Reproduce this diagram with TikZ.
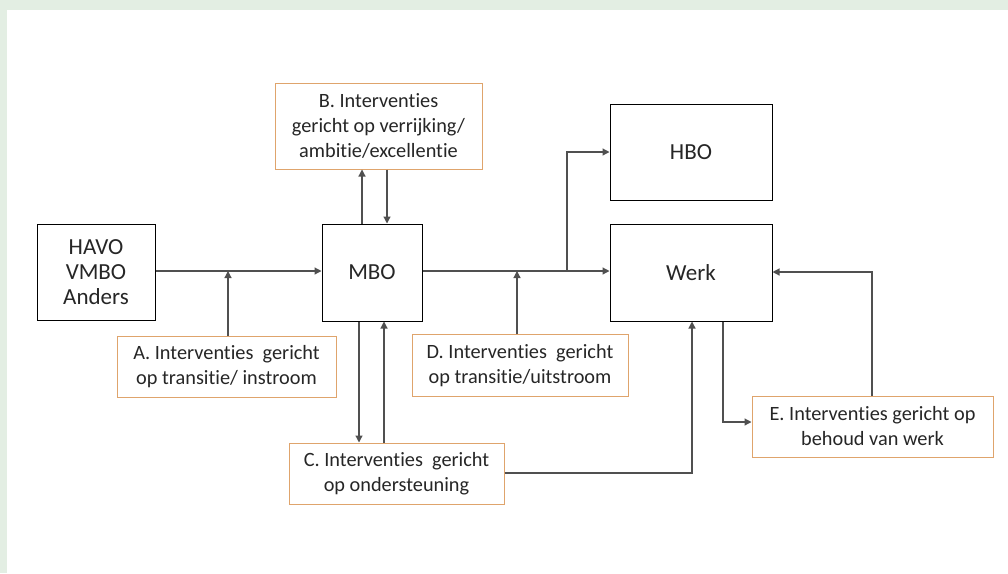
\documentclass[tikz,border=0pt]{standalone}
\usepackage{fontspec}
\setmainfont{Carlito}[RawFeature={-liga}]
\usetikzlibrary{arrows.meta}
\definecolor{bggreen}{HTML}{E3EEE3}
\definecolor{boxorange}{HTML}{DFA46C}
\definecolor{linegray}{HTML}{505050}
\definecolor{textdark}{HTML}{262626}
\tikzset{
  mainbox/.style={draw=black, line width=1pt, fill=white, inner sep=0pt, align=center,
    text=textdark, font=\fontsize{23}{25}\selectfont},
  intbox/.style={draw=boxorange, line width=1pt, fill=white, inner sep=0pt, align=center,
    text=textdark, font=\fontsize{20.3}{25}\selectfont},
  conn/.style={draw=linegray, line width=1.2pt, -{Triangle[length=7pt,width=7pt]}}
}
\begin{document}
\begin{tikzpicture}[x=1pt,y=-1pt]
\fill[bggreen] (0,0) rectangle (1008,573);
\fill[white] (7,10) rectangle (1008,573);
\useasboundingbox (0,0) rectangle (1008,573);

% main boxes
\node[mainbox, minimum width=118pt, minimum height=96pt] (havo) at (96,272) {HAVO\\VMBO\\Anders};
\node[mainbox, minimum width=100pt, minimum height=97pt] (mbo) at (372,272.5) {MBO};
\node[mainbox, minimum width=162pt, minimum height=96pt] (hbo) at (691,152) {HBO};
\node[mainbox, minimum width=162pt, minimum height=97pt] (werk) at (691,272.5) {Werk};

% intervention boxes
\node[intbox, minimum width=207pt, minimum height=86pt] (B) at (378.5,126) {B. Interventies\\gericht op verrijking/\\ambitie/excellentie};
\node[intbox, minimum width=219pt, minimum height=61pt] (A) at (226.5,366.5) {A. Interventies\ \ gericht\\op transitie/ instroom};
\node[intbox, minimum width=216pt, minimum height=62pt] (D) at (520,365.5) {D. Interventies\ \ gericht\\op transitie/uitstroom};
\node[intbox, minimum width=215pt, minimum height=61pt] (C) at (396.5,473.5) {C. Interventies\ \ gericht\\op ondersteuning};
\node[intbox, minimum width=241pt, minimum height=61pt] (E) at (872.5,426.5) {E. Interventies gericht op\\behoud van werk};

% junction coordinates
\coordinate (ja) at (228,271);
\coordinate (jd) at (517,271);
\coordinate (jh) at (567,271);

% HAVO -> MBO
\draw[conn] (havo.east |- 0,271) -- (mbo.west |- 0,271);
\draw[conn] (A.north -| ja) -- (ja);

% MBO -> Werk, branch to HBO
\draw[conn] (mbo.east |- 0,271) -- (werk.west |- 0,271);
\draw[conn] (jh) |- (hbo.west);
\draw[conn] (D.north -| jd) -- (jd);

% MBO <-> B
\draw[conn] (mbo.north -| 362,0) -- (B.south -| 362,0);
\draw[conn] (B.south -| 387,0) -- (mbo.north -| 387,0);

% MBO <-> C
\draw[conn] (mbo.south -| 359,0) -- (C.north -| 359,0);
\draw[conn] (C.north -| 384,0) -- (mbo.south -| 384,0);

% C -> Werk
\draw[conn] (C.east |- 0,473) -| (werk.south -| 692,0);

% Werk -> E
\draw[conn] (werk.south -| 723,0) |- (E.west |- 0,422);

% E -> Werk
\draw[conn] (E.north -| 872,0) |- (werk.east |- 0,272);
\end{tikzpicture}
\end{document}
